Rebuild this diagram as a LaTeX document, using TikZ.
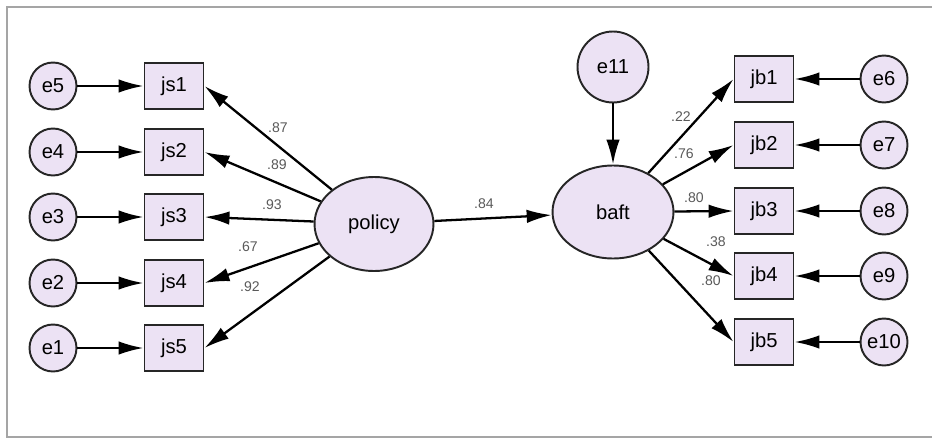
\documentclass[tikz,border=0pt]{standalone}
\usepackage{fontspec}
\setmainfont{Liberation Sans}
\usepackage{tikz}
\usetikzlibrary{arrows.meta,positioning,shapes.geometric}
\definecolor{semfill}{RGB}{236,226,244}
\definecolor{framegray}{RGB}{165,165,165}

\begin{document}
\begin{tikzpicture}[
    x=0.02cm, y=-0.02cm,
    err/.style={circle, draw=black!85, line width=1.1pt, fill=semfill, minimum size=0.94cm, inner sep=0pt, font=\fontsize{11.5}{13}\selectfont},
    item/.style={rectangle, draw=black!85, line width=1.1pt, fill=semfill, minimum width=1.18cm, minimum height=0.92cm, font=\fontsize{11.5}{13}\selectfont},
    latent/.style={ellipse, draw=black!85, line width=1.1pt, fill=semfill, minimum width=2.38cm, minimum height=1.88cm, font=\fontsize{11.5}{13}\selectfont},
    arr/.style={-{Latex[length=0.5cm,width=0.27cm]}, line width=1.3pt},
    wt/.style={font=\fontsize{8}{9}\selectfont, text=black!65, inner sep=0pt}
]
    \useasboundingbox (0,0) rectangle (932,439);
    % Frame
    \draw[framegray, line width=0.8pt] (934,7) -- (7,7) -- (7,437) -- (934,437);

    % Error terms, left
    \node[err] (e5) at (53,86) {e5};
    \node[err] (e4) at (53,152) {e4};
    \node[err] (e3) at (53,217) {e3};
    \node[err] (e2) at (53,283) {e2};
    \node[err] (e1) at (53,348) {e1};

    % Indicators of policy
    \node[item] (js1) at (174,86) {js1};
    \node[item] (js2) at (174,152) {js2};
    \node[item] (js3) at (174,217) {js3};
    \node[item] (js4) at (174,283) {js4};
    \node[item] (js5) at (174,348) {js5};

    % Latent variables
    \node[latent] (policy) at (374,224) {policy};
    \node[latent, minimum width=2.42cm, minimum height=1.86cm] (baft) at (613,212) {baft};
    \node[err, minimum size=1.42cm] (e11) at (613,67) {e11};

    % Indicators of baft
    \node[item] (jb1) at (764,79) {jb1};
    \node[item] (jb2) at (764,145) {jb2};
    \node[item] (jb3) at (764,211) {jb3};
    \node[item] (jb4) at (764,276) {jb4};
    \node[item] (jb5) at (764,342) {jb5};

    % Error terms, right
    \node[err] (e6) at (884,79) {e6};
    \node[err] (e7) at (884,145) {e7};
    \node[err] (e8) at (884,211) {e8};
    \node[err] (e9) at (884,276) {e9};
    \node[err] (e10) at (884,342) {e10};

    % Paths
    \draw[arr] (e5) -- (js1);
    \draw[arr] (e4) -- (js2);
    \draw[arr] (e3) -- (js3);
    \draw[arr] (e2) -- (js4);
    \draw[arr] (e1) -- (js5);
    \draw[arr] (policy) -- (js1.east);
    \draw[arr] (policy) -- (js2.east);
    \draw[arr] (policy) -- (js3.east);
    \draw[arr] (policy) -- (js4.east);
    \draw[arr] (policy) -- (js5.east);
    \draw[arr] (policy) -- (baft);
    \draw[arr] (e11) -- (baft);
    \draw[arr] (baft) -- (jb1.west);
    \draw[arr] (baft) -- (jb2.west);
    \draw[arr] (baft) -- (jb3.west);
    \draw[arr] (baft) -- (jb4.west);
    \draw[arr] (baft) -- (jb5.west);
    \draw[arr] (e6) -- (jb1);
    \draw[arr] (e7) -- (jb2);
    \draw[arr] (e8) -- (jb3);
    \draw[arr] (e9) -- (jb4);
    \draw[arr] (e10) -- (jb5);

    % Estimates
    \node[wt] (w1) at (278,128) {.87};
    \node[wt] (w2) at (277,165) {.89};
    \node[wt] (w3) at (272,205) {.93};
    \node[wt] (w4) at (248,247) {.67};
    \node[wt] (w5) at (250,287) {.92};
    \node[wt] (w6) at (484,204) {.84};
    \node[wt] (w7) at (681,117) {.22};
    \node[wt] (w8) at (684,154) {.76};
    \node[wt] (w9) at (694,198) {.80};
    \node[wt] (w10) at (716,242) {.38};
    \node[wt] (w11) at (711,281) {.80};
\end{tikzpicture}
\end{document}
